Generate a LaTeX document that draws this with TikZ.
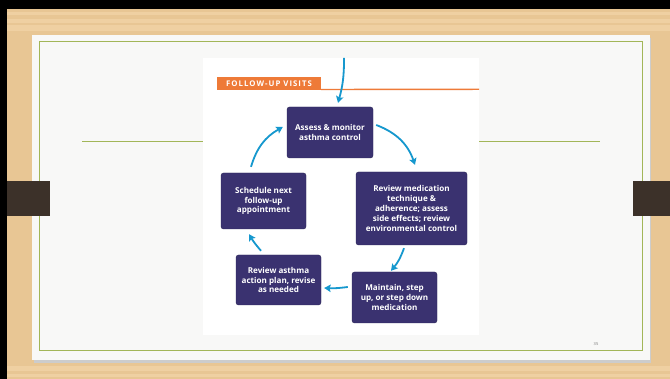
\documentclass[tikz,border=0pt]{standalone}
\usepackage{fontspec}
\setmainfont{Open Sans}
\usepackage{tikz}
\usetikzlibrary{arrows.meta,positioning,calc}
\definecolor{wood}{RGB}{232,198,148}
\definecolor{woodL}{RGB}{244,216,172}
\definecolor{tabBrown}{RGB}{60,49,41}
\definecolor{frameG}{RGB}{162,182,88}
\definecolor{slideW}{RGB}{248,248,247}
\definecolor{boxP}{RGB}{58,50,112}
\definecolor{flowB}{RGB}{22,152,206}
\definecolor{tabO}{RGB}{238,122,56}

\begin{document}
\begin{tikzpicture}[x=1pt, y=1pt, font=\bfseries\fontsize{8.1}{9.9}\selectfont,
  visitbox/.style={fill=boxP, draw=boxP!80!black, rounded corners=2.5pt,
    text=white, align=center, inner sep=0pt},
  flow/.style={draw=flowB, line width=1.8pt,
    -{Stealth[length=6.5pt,width=7.5pt,inset=1.2pt]}}]
  \useasboundingbox (0,0) rectangle (670,379);
  % wooden desk and black edge
  \fill[wood] (0,0) rectangle (670,379);
  \foreach \y/\h in {348/6,356/4,364/3,8/5,2/3} {
     \fill[woodL, opacity=0.6] (0,\y) rectangle (670,\y+\h);}
  \fill[black] (0,370) rectangle (670,379);
  \fill[black] (0,0) rectangle (7,379);
  % slide with its shadow and frame
  \fill[black!20] (34,16) rectangle (651,341);
  \fill[slideW] (32,19) rectangle (650,344);
  \draw[frameG, line width=1pt] (39,28) rectangle (642,337);
  \draw[frameG, line width=0.9pt] (82,238) -- (600,238);
  \foreach \x/\w in {7/43,633/37} {
     \fill[tabBrown] (\x,163) rectangle (\x+\w,198);}
  \node[font=\fontsize{4}{4}\selectfont, text=black!55] (pagenum) at (596,35) {35};
  % the follow-up visits figure
  \fill[white] (203,44) rectangle (479,321);
  \node[fill=tabO, text=white,
    font=\bfseries\fontsize{7.8}{8}\selectfont\addfontfeature{LetterSpace=13},
    minimum width=104pt, minimum height=13pt, inner sep=0pt] (title) at (269,295.5)
    {FOLLOW-UP VISITS};
  \draw[tabO, line width=1.4pt] (title.south east) ++(0,0.7) -- (479,289.7);
  \node[visitbox, minimum width=86pt, minimum height=51pt] (assess) at (330,246.5)
    {Assess \& monitor\\asthma control};
  \node[visitbox, minimum width=111pt, minimum height=73pt] (review) at (411.5,170.5)
    {Review medication\\technique \&\\adherence; assess\\side effects; review\\environmental control};
  \node[visitbox, minimum width=85pt, minimum height=51pt] (maintain) at (394.5,81.5)
    {Maintain, step\\up, or step down\\medication};
  \node[visitbox, minimum width=85pt, minimum height=50pt] (plan) at (278.5,99)
    {Review asthma\\action plan, revise\\as needed};
  \node[visitbox, minimum width=85pt, minimum height=56pt] (schedule) at (263.5,178)
    {Schedule next\\follow-up\\appointment};
  % cycle arrows
  \coordinate (entry) at (344,321);
  \draw[flow] (entry) to[bend left=8] ($(assess.north)+(8,4)$);
  \draw[flow] ($(assess.east)+(3,7.5)$) to[bend left=25] ($(review.north)+(3.5,7)$);
  \draw[flow] ($(review.south)+(-7.5,-3)$) to[bend left=10] ($(maintain.north)+(-3.5,1)$);
  \draw[flow] ($(maintain.west)+(-4,10.5)$) to[bend left=5] ($(plan.east)+(3,-8)$);
  \draw[flow] ($(plan.north)+(-17.5,4)$) to[bend left=5] ($(schedule.south)+(-14.5,-5)$);
  \draw[flow] ($(schedule.north)+(-12.5,6)$) to[bend left=22] ($(assess.west)+(-4,5.5)$);
\end{tikzpicture}
\end{document}
